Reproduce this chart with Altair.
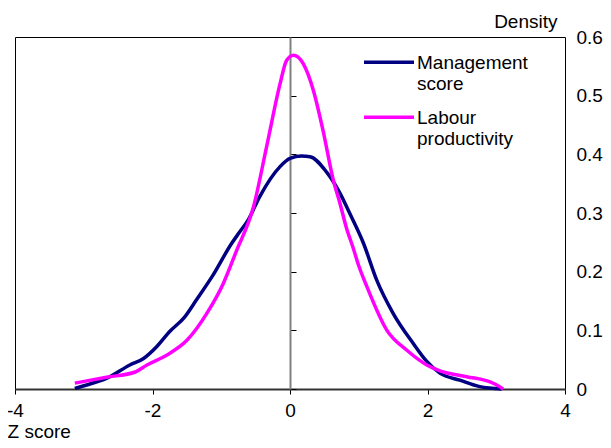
import altair as alt
import pandas as pd

series_names = ["Management score", "Labour productivity"]
series_colors = ["#000080", "#FF00FF"]

mgmt_z = [-3.13, -2.9, -2.67, -2.33, -2.13, -1.94, -1.75, -1.53, -1.36, -1.12, -0.85, -0.73,
          -0.61, -0.44, -0.145, 0.0, 0.17, 0.29, 0.53, 0.73, 0.87, 1.07, 1.26, 1.50, 1.79,
          1.99, 2.18, 2.47, 2.76, 3.08]
mgmt_d = [0.001, 0.009, 0.018, 0.041, 0.052, 0.072, 0.098, 0.123, 0.152, 0.194, 0.248, 0.268,
          0.288, 0.328, 0.379, 0.393, 0.397, 0.396, 0.370, 0.333, 0.299, 0.248, 0.186, 0.129,
          0.078, 0.047, 0.027, 0.015, 0.004, 0.0]

lab_z = [-3.13, -2.67, -2.25, -2.08, -1.79, -1.50, -1.21, -0.97, -0.78, -0.53, -0.34, -0.145,
         -0.05, 0.05, 0.19, 0.34, 0.48, 0.63, 0.73, 0.82, 0.92, 1.0, 1.12, 1.41, 1.70, 1.99,
         2.18, 2.57, 2.91, 3.02, 3.10]
lab_d = [0.010, 0.020, 0.029, 0.041, 0.058, 0.083, 0.129, 0.180, 0.235, 0.311, 0.413, 0.520,
         0.560, 0.569, 0.555, 0.509, 0.441, 0.356, 0.315, 0.275, 0.240, 0.210, 0.174, 0.100,
         0.066, 0.041, 0.031, 0.021, 0.012, 0.006, 0.0]

x_ticks = [-4, -2, 0, 2, 4]
y_ticks = [0, 0.1, 0.2, 0.3, 0.4, 0.5, 0.6]

df = pd.concat([
    pd.DataFrame({"z": mgmt_z, "d": mgmt_d, "series": series_names[0]}),
    pd.DataFrame({"z": lab_z, "d": lab_d, "series": series_names[1]}),
])

FONT = "Liberation Sans"
FS = 19

chart = alt.Chart(df).mark_line(strokeWidth=3.5, interpolate="monotone").encode(
    x=alt.X("z:Q",
            scale=alt.Scale(domain=[-4, 4], nice=False),
            axis=alt.Axis(values=x_ticks, grid=False, domainColor="#333333", domainWidth=2,
                          tickColor="#000000", tickSize=5, labelFontSize=FS, labelPadding=7,
                          labelColor="#000000", labelFlush=False,
                          labelExpr="toString(datum.value)",
                          title="Z score", titleFontSize=FS, titleFontWeight="normal",
                          titleColor="#000000", titleAlign="left", titleAnchor="start",
                          titleX=-8, titleY=48, titleBaseline="alphabetic")),
    y=alt.Y("d:Q",
            scale=alt.Scale(domain=[0, 0.6], nice=False),
            axis=alt.Axis(orient="right", offset=-275, values=y_ticks, format=".1~f",
                          grid=False, domainColor="#808080", domainWidth=2,
                          tickColor="#000000", tickSize=6, tickWidth=1,
                          labelFontSize=FS, labelPadding=280, labelColor="#000000",
                          labelFlush=False, labelOverlap=False,
                          title="Density", titleAngle=0, titleAlign="right",
                          titleBaseline="alphabetic", titleX=267, titleY=-10,
                          titleFontSize=FS, titleFontWeight="normal", titleColor="#000000")),
    color=alt.Color("series:N",
                    scale=alt.Scale(domain=series_names, range=series_colors),
                    legend=alt.Legend(orient="none", legendX=347, legendY=5, title=None,
                                      labelExpr="split(datum.label, ' ')",
                                      labelFontSize=FS, labelColor="#000000",
                                      labelBaseline="alphabetic", labelOffset=1,
                                      symbolType="M-1,-0.27H1", symbolSize=2500,
                                      symbolStrokeWidth=3.5, rowPadding=3, padding=0)),
).properties(
    width=550,
    height=352,
    autosize=alt.AutoSizeParams(type="none"),
    padding={"left": 7, "top": 29, "right": 38, "bottom": 51},
).configure(
    font=FONT,
).configure_view(
    stroke="#000000",
    strokeWidth=1,
)

chart.save("out.html", embed_options={"renderer": "svg", "actions": False})
